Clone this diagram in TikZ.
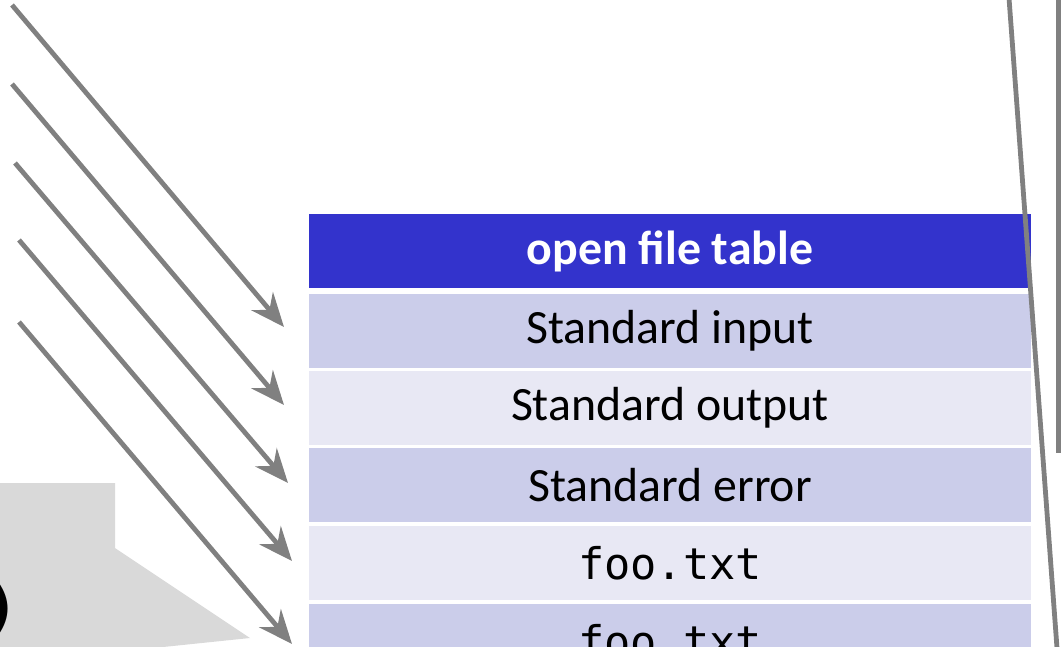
\documentclass[tikz,border=0pt]{standalone}
\usepackage{fontspec}
\setmainfont{Carlito}
\setmonofont{DejaVu Sans Mono}
\usepackage{xcolor}
\usepackage{tikz}
\usetikzlibrary{arrows.meta}

\definecolor{headblue}{HTML}{3333CC}
\definecolor{rowdark}{HTML}{CBCDEA}
\definecolor{rowlight}{HTML}{E8E8F4}
\definecolor{ptrgray}{HTML}{808080}
\definecolor{boxgray}{HTML}{D9D9D9}

\begin{document}
\begin{tikzpicture}[x=0.025cm,y=-0.025cm,>={Stealth[length=24pt,width=20pt,inset=8pt]}]
  \tikzstyle{cell}=[minimum width=18.05cm,minimum height=1.85cm,inner sep=0pt,font=\fontsize{34}{40}\selectfont]
  \tikzstyle{ptr}=[draw=ptrgray,line width=0.12cm]

  \useasboundingbox (0,0) rectangle (1061,646);
  \clip (0,0) rectangle (1061,646);

  % speech box of the call, cut at the left edge
  \fill[boxgray] (-10,483) -- (115,483) -- (115,548) -- (250,638) -- (115,652) -- (-10,652) -- cycle;
  \node[anchor=east,inner sep=0pt,font=\fontsize{42}{46}\selectfont\ttfamily\bfseries] (call) at (19,609) {)};

  % the open file table
  \node[cell,fill=headblue,text=white,font=\fontsize{34}{40}\selectfont\bfseries] (head) at (670,251) {open file table};
  \node[cell,fill=rowdark] (r0) at (670,331) {Standard input};
  \node[cell,fill=rowlight] (r1) at (670,408) {Standard output};
  \node[cell,fill=rowdark] (r2) at (670,485) {Standard error};
  \node[cell,fill=rowlight,font=\fontsize{31}{36}\selectfont\ttfamily] (r3) at (670,563) {foo.txt};
  \node[cell,fill=rowdark,font=\fontsize{31}{36}\selectfont\ttfamily] (r4) at (670,641) {foo.txt};

  % descriptors come in from the left
  \coordinate (fd0) at (12,5);
  \coordinate (fd1) at (12,84);
  \coordinate (fd2) at (15,163);
  \coordinate (fd3) at (19,240);
  \coordinate (fd4) at (19,322);

  \coordinate (in0) at (284,327);
  \coordinate (in1) at (284,405);
  \coordinate (in2) at (288,483);
  \coordinate (in3) at (292,561);
  \coordinate (in4) at (292,644);

  \draw[ptr,->] (fd0) -- (in0);
  \draw[ptr,->] (fd1) -- (in1);
  \draw[ptr,->] (fd2) -- (in2);
  \draw[ptr,->] (fd3) -- (in3);
  \draw[ptr,->] (fd4) -- (in4);

  % links on the right
  \coordinate (vtop) at (1009,-2);
  \coordinate (vbot) at (1057,648);
  \draw[ptr] (vtop) -- (vbot);

  \coordinate (etop) at (1058.5,-5);
  \coordinate (ebot) at (1058.5,453);
  \draw[draw=ptrgray,line width=0.14cm] (etop) -- (ebot);
\end{tikzpicture}
\end{document}
